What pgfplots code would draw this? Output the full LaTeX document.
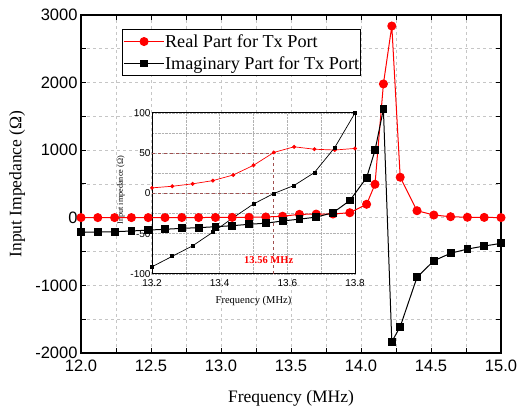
\documentclass[border=0pt]{standalone}
\usepackage{fontspec}
\setmainfont{Liberation Serif}
\newfontfamily\arialfont{Liberation Sans}
\usepackage{pgfplots}
\pgfplotsset{compat=1.18}
\definecolor{annot}{RGB}{160,80,80}

\begin{document}
\begin{tikzpicture}[x=1pt,y=1pt]
\useasboundingbox (0,0) rectangle (518,414);

% main frame, grid and ticks
\begin{axis}[
    at={(81pt,61pt)}, anchor=south west,
    scale only axis, width=420pt, height=338pt,
    xmin=12, xmax=15, ymin=-2000, ymax=3000,
    xtick={12,12.5,13,13.5,14,14.5,15},
    minor xtick={12.25,12.75,13.25,13.75,14.25,14.75},
    ytick={-2000,-1000,0,1000,2000,3000},
    yticklabels={-2000,-1000,0,1000,2000,3000},
    minor ytick={-1500,-500,500,1500,2500},
    grid=both,
    major grid style={dashed, gray!45, line width=0.6pt},
    minor grid style={dashed, gray!45, line width=0.6pt},
    tick align=inside, major tick length=5pt, minor tick length=5pt,
    every tick/.style={black, line width=1pt},
    axis line style={line width=1.1pt},
    ticklabel style={font=\arialfont\fontsize{16.5}{16.5}\selectfont},
    /pgf/number format/assume math mode=true,
    xticklabel style={yshift=-3.5pt, /pgf/number format/.cd, fixed, fixed zerofill, precision=1},
    xlabel={Frequency (MHz)},
    ylabel={Input Impedance (Ω)},
    label style={font=\fontsize{17.5}{17.5}\selectfont},
    xlabel style={at={(axis description cs:0.5,-0.133)}, anchor=center},
    ylabel style={at={(axis description cs:-0.152,0.5)}, anchor=center},
]
\end{axis}

% inset
\begin{axis}[
    at={(152pt,140pt)}, anchor=south west,
    scale only axis, width=203pt, height=161pt,
    xmin=13.2, xmax=13.8, ymin=-100, ymax=100,
    xtick={13.2,13.4,13.6,13.8},
    minor xtick={13.3,13.5,13.7},
    ytick={-100,-50,0,50,100},
    yticklabels={-100,-50,0,50,100},
    minor ytick={-75,-25,25,75},
    grid=both,
    major grid style={densely dotted, gray!60, line width=0.6pt},
    minor grid style={densely dotted, gray!60, line width=0.6pt},
    major tick length=0pt, minor tick length=0pt,
    axis line style={line width=1pt},
    axis background/.style={fill=white},
    ticklabel style={font=\arialfont\fontsize{10}{10}\selectfont},
    /pgf/number format/assume math mode=true,
    xticklabel style={yshift=-2pt, /pgf/number format/.cd, fixed, fixed zerofill, precision=1},
    yticklabel style={xshift=2pt},
    xlabel={Frequency (MHz)},
    ylabel={Input impedance (Ω)},
    xlabel style={font=\fontsize{10.5}{10.5}\selectfont, at={(axis description cs:0.5,-0.168)}, anchor=center},
    ylabel style={font=\fontsize{8.2}{8.2}\selectfont, at={(axis description cs:-0.153,0.52)}, anchor=center},
]
\addplot[annot, dashed, line width=0.9pt] coordinates {(13.2,50) (13.56,50) (13.56,-100)};
\addplot[annot, dashed, line width=0.9pt] coordinates {(13.2,0) (13.56,0)};
\addplot[red, line width=0.7pt, mark=*, mark size=1.6pt] coordinates {
    (13.20,7) (13.26,9) (13.32,12) (13.38,16) (13.44,23) (13.50,35)
    (13.56,51) (13.62,58) (13.68,55) (13.74,54) (13.80,56)
};
\addplot[black, line width=0.7pt, mark=square*, mark size=1.5pt] coordinates {
    (13.20,-91) (13.26,-78) (13.32,-65) (13.38,-48) (13.44,-30) (13.50,-13)
    (13.56,0) (13.62,10) (13.68,26) (13.74,57) (13.80,100)
};
\node[red, font=\bfseries\fontsize{10.5}{10.5}\selectfont] at (axis cs:13.545,-83) {13.56 MHz};
\end{axis}

% main data and legend on top
\begin{axis}[
    at={(81pt,61pt)}, anchor=south west,
    scale only axis, width=420pt, height=338pt,
    xmin=12, xmax=15, ymin=-2000, ymax=3000,
    hide axis,
    legend style={at={(rel axis cs:0.098,0.958)}, anchor=north west,
        draw=black, line width=0.8pt, fill=white,
        font=\fontsize{18.2}{19}\selectfont,
        inner xsep=1pt, inner ysep=1pt,
        nodes={inner xsep=0.5pt, inner ysep=3.8pt}},
    legend cell align=left,
    legend image code/.code={
        \draw[mark repeat=2, mark phase=2, #1] plot coordinates {(0pt,0pt) (20pt,0pt) (40pt,0pt)};
    },
]
\addplot[red, line width=1pt, mark=*, mark size=4pt] coordinates {
    (12.00,3) (12.12,3) (12.24,3) (12.36,3) (12.48,3) (12.60,3) (12.72,4)
    (12.84,4) (12.96,5) (13.08,6) (13.20,7) (13.32,12) (13.44,23) (13.56,51)
    (13.68,55) (13.80,56) (13.92,75) (14.04,200) (14.10,496) (14.16,1980)
    (14.22,2837) (14.28,600) (14.40,105) (14.52,41) (14.64,16) (14.76,8)
    (14.88,6) (15.00,3)
};
\addlegendentry{Real Part for Tx Port}
\addplot[black, line width=1pt, mark=square*, mark size=3.4pt] coordinates {
    (12.00,-215) (12.12,-210) (12.24,-206) (12.36,-195) (12.48,-182) (12.60,-170)
    (12.72,-156) (12.84,-146) (12.96,-132) (13.08,-117) (13.20,-96) (13.32,-80)
    (13.44,-47) (13.56,-20) (13.68,10) (13.80,75) (13.92,255) (14.04,593)
    (14.10,998) (14.16,1605) (14.22,-1833) (14.28,-1611) (14.40,-880)
    (14.52,-635) (14.64,-525) (14.76,-462) (14.88,-418) (15.00,-378)
};
\addlegendentry{Imaginary Part for Tx Port}
\end{axis}
\end{tikzpicture}
\end{document}
